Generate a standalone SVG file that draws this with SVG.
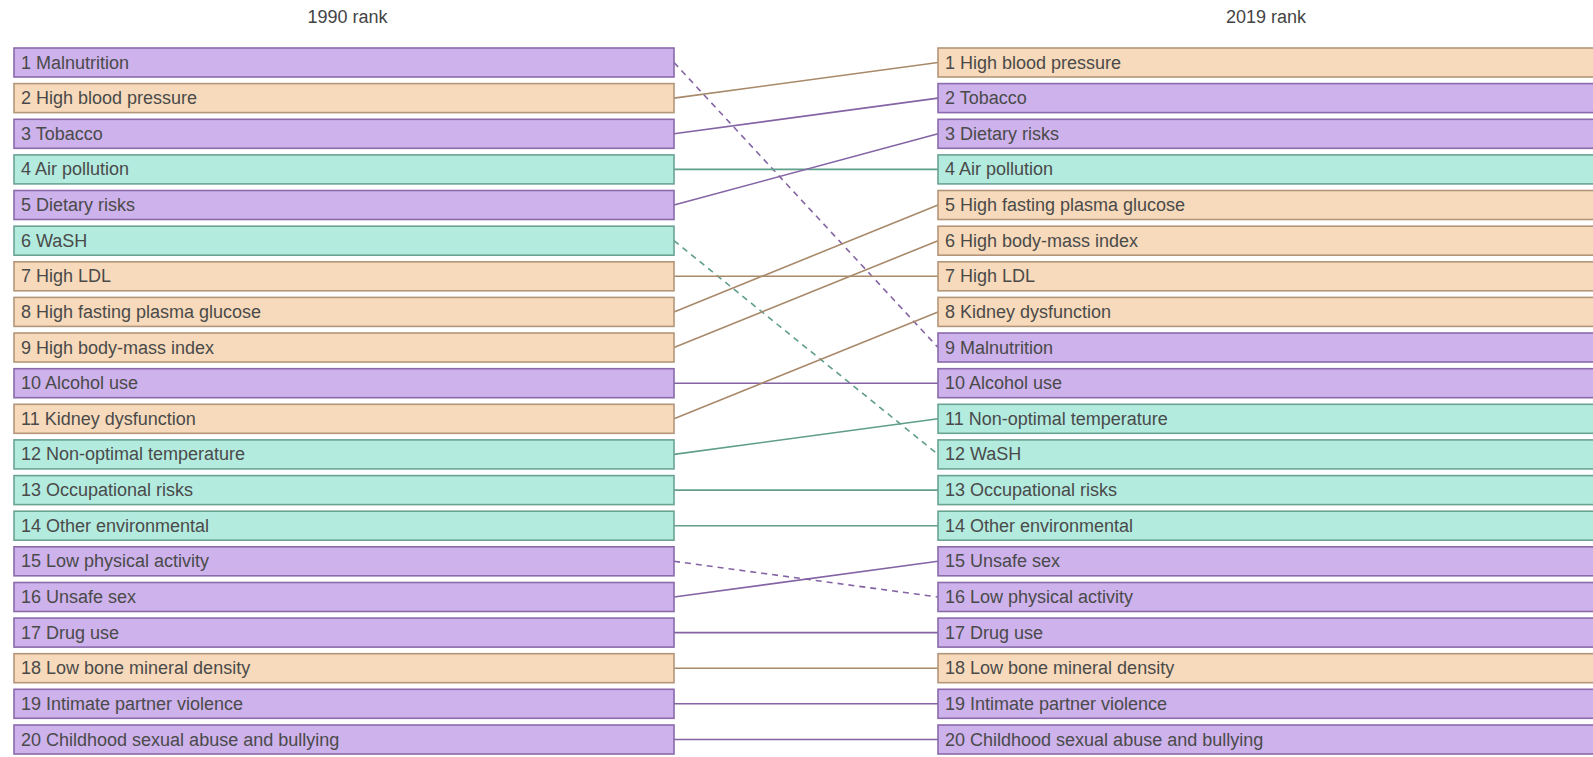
<svg xmlns="http://www.w3.org/2000/svg" width="1593" height="757" viewBox="0 0 1593 757">
<style>
.bg{fill:#ffffff}
.title{font-family:"Liberation Sans",Arial,sans-serif;font-size:18px;fill:#444444;text-anchor:middle}
.lbl{font-family:"Liberation Sans",Arial,sans-serif;font-size:18px;fill:#4a4a4a}
.p rect{fill:#cdb2eb;stroke:#8a6aab;stroke-width:1.6}
.o rect{fill:#f7dabb;stroke:#b39679;stroke-width:1.6}
.t rect{fill:#b3ebdf;stroke:#6aa392;stroke-width:1.6}
.c{fill:none;stroke-width:1.6}
.cp{stroke:#8464a4}
.co{stroke:#a8896a}
.ct{stroke:#5f9e88}
.d{stroke-dasharray:6 5}
</style>
<rect class="bg" x="0" y="0" width="1593" height="757"/>
<text class="title" x="347.5" y="23">1990 rank</text>
<text class="title" x="1266" y="23">2019 rank</text>
<g id="connectors">
<line class="c cp d" x1="674" y1="62.5" x2="938" y2="347.5"/>
<line class="c co" x1="674" y1="98.1" x2="938" y2="62.5"/>
<line class="c cp" x1="674" y1="133.8" x2="938" y2="98.1"/>
<line class="c ct" x1="674" y1="169.4" x2="938" y2="169.4"/>
<line class="c cp" x1="674" y1="205" x2="938" y2="133.8"/>
<line class="c ct d" x1="674" y1="240.7" x2="938" y2="454.4"/>
<line class="c co" x1="674" y1="276.3" x2="938" y2="276.3"/>
<line class="c co" x1="674" y1="311.9" x2="938" y2="205"/>
<line class="c co" x1="674" y1="347.5" x2="938" y2="240.7"/>
<line class="c cp" x1="674" y1="383.2" x2="938" y2="383.2"/>
<line class="c co" x1="674" y1="418.8" x2="938" y2="311.9"/>
<line class="c ct" x1="674" y1="454.4" x2="938" y2="418.8"/>
<line class="c ct" x1="674" y1="490.1" x2="938" y2="490.1"/>
<line class="c ct" x1="674" y1="525.7" x2="938" y2="525.7"/>
<line class="c cp d" x1="674" y1="561.3" x2="938" y2="597"/>
<line class="c cp" x1="674" y1="597" x2="938" y2="561.3"/>
<line class="c cp" x1="674" y1="632.6" x2="938" y2="632.6"/>
<line class="c co" x1="674" y1="668.2" x2="938" y2="668.2"/>
<line class="c cp" x1="674" y1="703.8" x2="938" y2="703.8"/>
<line class="c cp" x1="674" y1="739.5" x2="938" y2="739.5"/>
</g>
<g id="l1" class="p"><rect x="14" y="48" width="660" height="29"/><text class="lbl" x="21" y="68.5">1 Malnutrition</text></g>
<g id="l2" class="o"><rect x="14" y="83.6" width="660" height="29"/><text class="lbl" x="21" y="104.1">2 High blood pressure</text></g>
<g id="l3" class="p"><rect x="14" y="119.3" width="660" height="29"/><text class="lbl" x="21" y="139.8">3 Tobacco</text></g>
<g id="l4" class="t"><rect x="14" y="154.9" width="660" height="29"/><text class="lbl" x="21" y="175.4">4 Air pollution</text></g>
<g id="l5" class="p"><rect x="14" y="190.5" width="660" height="29"/><text class="lbl" x="21" y="211">5 Dietary risks</text></g>
<g id="l6" class="t"><rect x="14" y="226.2" width="660" height="29"/><text class="lbl" x="21" y="246.7">6 WaSH</text></g>
<g id="l7" class="o"><rect x="14" y="261.8" width="660" height="29"/><text class="lbl" x="21" y="282.3">7 High LDL</text></g>
<g id="l8" class="o"><rect x="14" y="297.4" width="660" height="29"/><text class="lbl" x="21" y="317.9">8 High fasting plasma glucose</text></g>
<g id="l9" class="o"><rect x="14" y="333" width="660" height="29"/><text class="lbl" x="21" y="353.5">9 High body-mass index</text></g>
<g id="l10" class="p"><rect x="14" y="368.7" width="660" height="29"/><text class="lbl" x="21" y="389.2">10 Alcohol use</text></g>
<g id="l11" class="o"><rect x="14" y="404.3" width="660" height="29"/><text class="lbl" x="21" y="424.8">11 Kidney dysfunction</text></g>
<g id="l12" class="t"><rect x="14" y="439.9" width="660" height="29"/><text class="lbl" x="21" y="460.4">12 Non-optimal temperature</text></g>
<g id="l13" class="t"><rect x="14" y="475.6" width="660" height="29"/><text class="lbl" x="21" y="496.1">13 Occupational risks</text></g>
<g id="l14" class="t"><rect x="14" y="511.2" width="660" height="29"/><text class="lbl" x="21" y="531.7">14 Other environmental</text></g>
<g id="l15" class="p"><rect x="14" y="546.8" width="660" height="29"/><text class="lbl" x="21" y="567.3">15 Low physical activity</text></g>
<g id="l16" class="p"><rect x="14" y="582.5" width="660" height="29"/><text class="lbl" x="21" y="603">16 Unsafe sex</text></g>
<g id="l17" class="p"><rect x="14" y="618.1" width="660" height="29"/><text class="lbl" x="21" y="638.6">17 Drug use</text></g>
<g id="l18" class="o"><rect x="14" y="653.7" width="660" height="29"/><text class="lbl" x="21" y="674.2">18 Low bone mineral density</text></g>
<g id="l19" class="p"><rect x="14" y="689.3" width="660" height="29"/><text class="lbl" x="21" y="709.8">19 Intimate partner violence</text></g>
<g id="l20" class="p"><rect x="14" y="725" width="660" height="29"/><text class="lbl" x="21" y="745.5">20 Childhood sexual abuse and bullying</text></g>
<g id="r1" class="o"><rect x="938" y="48" width="660" height="29"/><text class="lbl" x="945" y="68.5">1 High blood pressure</text></g>
<g id="r2" class="p"><rect x="938" y="83.6" width="660" height="29"/><text class="lbl" x="945" y="104.1">2 Tobacco</text></g>
<g id="r3" class="p"><rect x="938" y="119.3" width="660" height="29"/><text class="lbl" x="945" y="139.8">3 Dietary risks</text></g>
<g id="r4" class="t"><rect x="938" y="154.9" width="660" height="29"/><text class="lbl" x="945" y="175.4">4 Air pollution</text></g>
<g id="r5" class="o"><rect x="938" y="190.5" width="660" height="29"/><text class="lbl" x="945" y="211">5 High fasting plasma glucose</text></g>
<g id="r6" class="o"><rect x="938" y="226.2" width="660" height="29"/><text class="lbl" x="945" y="246.7">6 High body-mass index</text></g>
<g id="r7" class="o"><rect x="938" y="261.8" width="660" height="29"/><text class="lbl" x="945" y="282.3">7 High LDL</text></g>
<g id="r8" class="o"><rect x="938" y="297.4" width="660" height="29"/><text class="lbl" x="945" y="317.9">8 Kidney dysfunction</text></g>
<g id="r9" class="p"><rect x="938" y="333" width="660" height="29"/><text class="lbl" x="945" y="353.5">9 Malnutrition</text></g>
<g id="r10" class="p"><rect x="938" y="368.7" width="660" height="29"/><text class="lbl" x="945" y="389.2">10 Alcohol use</text></g>
<g id="r11" class="t"><rect x="938" y="404.3" width="660" height="29"/><text class="lbl" x="945" y="424.8">11 Non-optimal temperature</text></g>
<g id="r12" class="t"><rect x="938" y="439.9" width="660" height="29"/><text class="lbl" x="945" y="460.4">12 WaSH</text></g>
<g id="r13" class="t"><rect x="938" y="475.6" width="660" height="29"/><text class="lbl" x="945" y="496.1">13 Occupational risks</text></g>
<g id="r14" class="t"><rect x="938" y="511.2" width="660" height="29"/><text class="lbl" x="945" y="531.7">14 Other environmental</text></g>
<g id="r15" class="p"><rect x="938" y="546.8" width="660" height="29"/><text class="lbl" x="945" y="567.3">15 Unsafe sex</text></g>
<g id="r16" class="p"><rect x="938" y="582.5" width="660" height="29"/><text class="lbl" x="945" y="603">16 Low physical activity</text></g>
<g id="r17" class="p"><rect x="938" y="618.1" width="660" height="29"/><text class="lbl" x="945" y="638.6">17 Drug use</text></g>
<g id="r18" class="o"><rect x="938" y="653.7" width="660" height="29"/><text class="lbl" x="945" y="674.2">18 Low bone mineral density</text></g>
<g id="r19" class="p"><rect x="938" y="689.3" width="660" height="29"/><text class="lbl" x="945" y="709.8">19 Intimate partner violence</text></g>
<g id="r20" class="p"><rect x="938" y="725" width="660" height="29"/><text class="lbl" x="945" y="745.5">20 Childhood sexual abuse and bullying</text></g>
</svg>
